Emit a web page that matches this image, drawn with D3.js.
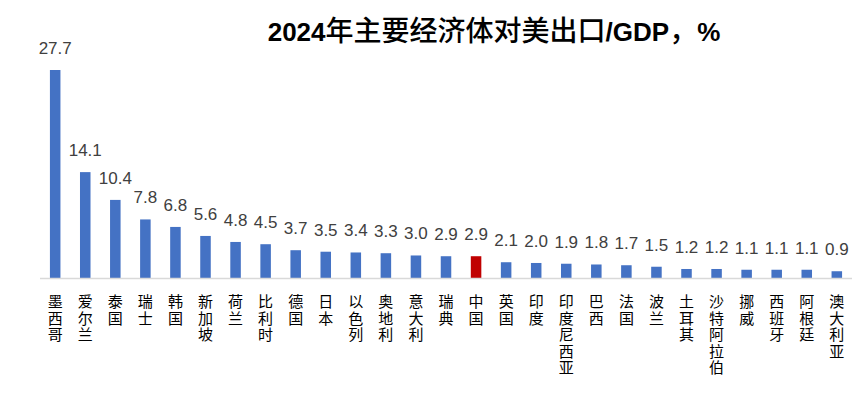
<!DOCTYPE html>
<html><head><meta charset="utf-8">
<script src="https://cdn.jsdelivr.net/npm/d3@7"></script>
<style>body{margin:0;background:#fff}svg{display:block}</style>
</head><body>
<svg id="c" width="864" height="395"></svg>
<script>
const categories = ["墨西哥","爱尔兰","泰国","瑞士","韩国","新加坡","荷兰","比利时","德国","日本","以色列","奥地利","意大利","瑞典","中国","英国","印度","印度尼西亚","巴西","法国","波兰","土耳其","沙特阿拉伯","挪威","西班牙","阿根廷","澳大利亚"];
const values = [27.7,14.1,10.4,7.8,6.8,5.6,4.8,4.5,3.7,3.5,3.4,3.3,3.0,2.9,2.9,2.1,2.0,1.9,1.8,1.7,1.5,1.2,1.2,1.1,1.1,1.1,0.9];
const highlight = "中国";
const titleParts = [["2024", true], ["年主要经济体对美出口", false], ["/GDP", true], ["，", false], ["%", true]];

const svg = d3.select("#c");
const m = {left:40, right:12, top:70, bottom:117};
const W = 864, H = 395;
const x = d3.scaleBand().domain(categories).range([m.left, W - m.right]).paddingInner(0.65).paddingOuter(0.33);
const y = d3.scaleLinear().domain([0, 27.7]).range([H - m.bottom, m.top]);

const title = svg.append("text").attr("x", 494).attr("y", 41).attr("text-anchor","middle").attr("fill","#000");
titleParts.forEach(([s, latin]) => {
  title.append("tspan").text(s)
    .attr("font-family", latin ? "Liberation Sans, Arial, sans-serif" : "'Noto Sans CJK SC', sans-serif")
    .attr("font-weight", latin ? "bold" : 500)
    .attr("font-size", latin ? 26 : 28);
});

svg.selectAll("rect.bar").data(categories).enter().append("rect")
  .attr("x", d => x(d)).attr("width", x.bandwidth())
  .attr("y", (d,i) => y(values[i])).attr("height", (d,i) => y(0) - y(values[i]))
  .attr("fill", d => d === highlight ? "#C00000" : "#4472C4");

svg.append("line").attr("x1", m.left).attr("x2", W - m.right)
  .attr("y1", y(0)+0.5).attr("y2", y(0)+0.5).attr("stroke","#D9D9D9").attr("stroke-width",1.5);

svg.selectAll("text.val").data(categories).enter().append("text")
  .attr("x", d => x(d) + x.bandwidth()/2).attr("y", (d,i) => y(values[i]) - 16)
  .attr("text-anchor","middle").attr("font-family","Liberation Sans, Arial, sans-serif")
  .attr("font-size",17).attr("fill","#404040")
  .text((d,i) => values[i].toFixed(1));

svg.selectAll("text.lab").data(categories).enter().append("text")
  .attr("x", d => x(d) + x.bandwidth()/2).attr("y", 294)
  .attr("font-family","'Noto Sans CJK SC', sans-serif").attr("font-size",15).attr("fill","#000")
  .style("writing-mode","vertical-rl").style("text-orientation","upright")
  .style("letter-spacing","1.5px")
  .text(d => d);
</script>
</body></html>
